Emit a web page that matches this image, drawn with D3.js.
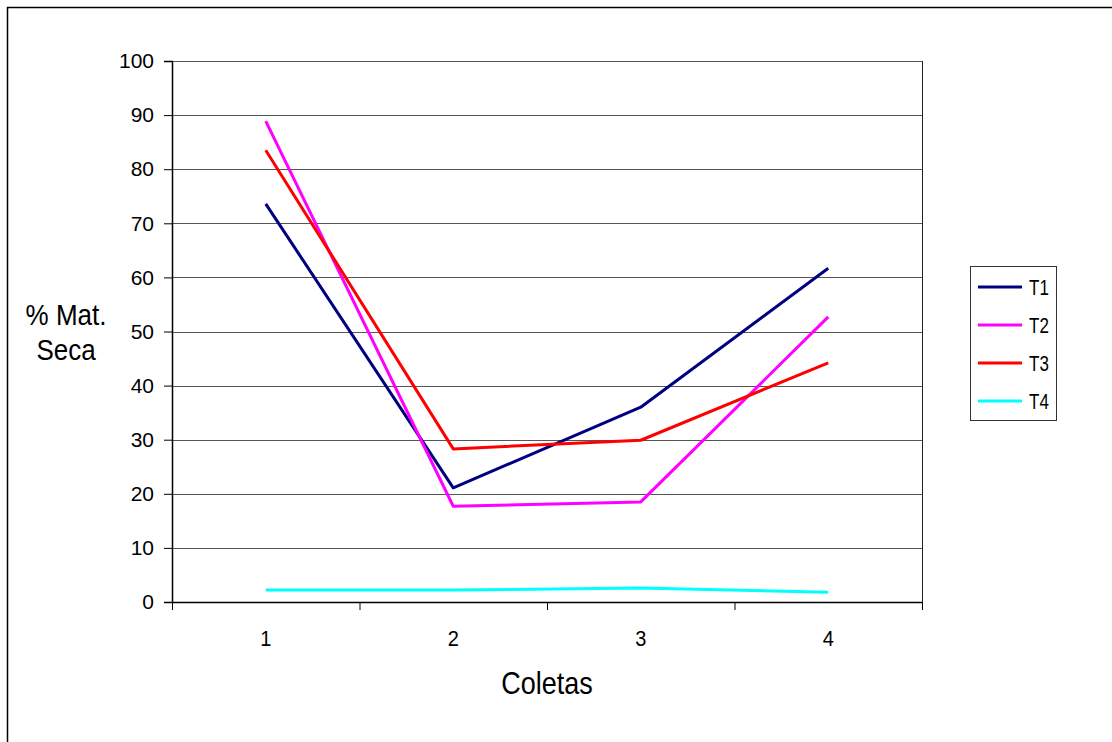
<!DOCTYPE html>
<html>
<head>
<meta charset="utf-8">
<script src="https://cdn.jsdelivr.net/npm/d3@7"></script>
<style>
  body { margin: 0; background: #fff; }
  text { font-family: "Liberation Sans", Arial, sans-serif; fill: #000; }
</style>
</head>
<body>
<div id="chart"></div>
<script>
// data
const coletas = ["1", "2", "3", "4"];
const seriesNames = ["T1", "T2", "T3", "T4"];
const t1 = [73.6, 21.1, 36.0, 61.7];
const t2 = [88.9, 17.7, 18.5, 52.7];
const t3 = [83.5, 28.3, 29.9, 44.2];
const t4 = [2.2, 2.2, 2.6, 1.8];
const yTicks = [0, 10, 20, 30, 40, 50, 60, 70, 80, 90, 100];
const colors = ["#000080", "#ff00ff", "#ff0000", "#00ffff"];

const series = [t1, t2, t3, t4].map((vals, i) => ({ name: seriesNames[i], values: vals, color: colors[i] }));

const W = 1112, H = 742;
const margin = { left: 172, top: 61, right: 190, bottom: 140 };
const width = W - margin.left - margin.right;
const height = H - margin.top - margin.bottom;

const svg = d3.select("#chart").append("svg")
    .attr("width", W)
    .attr("height", H);

// outer frame (runs off the right/bottom edge)
svg.append("rect")
    .attr("x", 7.5).attr("y", 7.5)
    .attr("width", W + 20).attr("height", H + 20)
    .attr("fill", "none").attr("stroke", "#000").attr("stroke-width", 1.5);

// text that is a bit taller than normal, like the original
function tallText(parent, x, y, size, str, k = 1.15) {
    return parent.append("text")
        .attr("transform", `translate(${x},${y}) scale(1,${k})`)
        .attr("text-anchor", "middle")
        .attr("font-size", size)
        .text(str);
}

const g = svg.append("g").attr("transform", `translate(${margin.left},${margin.top})`);

const x = d3.scaleBand().domain(coletas).range([0, width]);
const y = d3.scaleLinear().domain([0, 100]).range([height, 0]);

// gridlines
g.selectAll(".grid")
    .data(yTicks.filter(d => d > 0))
    .enter().append("line")
    .attr("class", "grid")
    .attr("x1", 0).attr("x2", width)
    .attr("y1", d => Math.round(y(d)) + 0.5).attr("y2", d => Math.round(y(d)) + 0.5)
    .attr("stroke", "#555").attr("stroke-width", 1);

// right border of plot area
g.append("line")
    .attr("x1", width + 0.5).attr("x2", width + 0.5)
    .attr("y1", 0).attr("y2", height)
    .attr("stroke", "#222").attr("stroke-width", 1);

// y axis
const yAxis = g.append("g")
    .call(d3.axisLeft(y).tickValues(yTicks).tickSize(8).tickPadding(10));
yAxis.select(".domain").attr("stroke-width", 1.5);
yAxis.selectAll("text").attr("font-size", 21);

// x axis, ticks on category boundaries, labels drawn separately
const xAxis = g.append("g")
    .attr("transform", `translate(0,${height})`)
    .call(d3.axisBottom(x).tickSize(0).tickFormat(""));
xAxis.select(".domain").attr("stroke-width", 1.5);
xAxis.selectAll(".bound")
    .data(d3.range(coletas.length + 1))
    .enter().append("line")
    .attr("class", "bound")
    .attr("x1", i => i * x.step() + 0.5).attr("x2", i => i * x.step() + 0.5)
    .attr("y1", 0).attr("y2", 8)
    .attr("stroke", "#000");
coletas.forEach(c => tallText(xAxis, x(c) + x.bandwidth() / 2, 44, 20, c, 1.12));

// lines
const line = d3.line()
    .x((d, i) => x(coletas[i]) + x.bandwidth() / 2)
    .y(d => y(d));

g.selectAll(".serie")
    .data(series)
    .enter().append("path")
    .attr("class", "serie")
    .attr("d", d => line(d.values))
    .attr("fill", "none")
    .attr("stroke", d => d.color)
    .attr("stroke-width", 3)
    .attr("stroke-linejoin", "round");

// axis titles
tallText(svg, 547, 694, 27, "Coletas", 1.15);
tallText(svg, 66, 325, 26, "% Mat.", 1.15);
tallText(svg, 66, 360, 26, "Seca", 1.15);

// legend
const legend = svg.append("g").attr("transform", "translate(970,266)");
legend.append("rect")
    .attr("x", 0.5).attr("y", 0.5)
    .attr("width", 86).attr("height", 154)
    .attr("fill", "#fff").attr("stroke", "#333").attr("stroke-width", 1);
const item = legend.selectAll(".item")
    .data(series)
    .enter().append("g")
    .attr("class", "item")
    .attr("transform", (d, i) => `translate(0,${21 + i * 38})`);
item.append("line")
    .attr("x1", 8).attr("x2", 52)
    .attr("stroke", d => d.color)
    .attr("stroke-width", 3);
item.append("text")
    .attr("transform", "translate(59,8) scale(1,1.3)")
    .attr("font-size", 17)
    .text(d => d.name);
</script>
</body>
</html>
